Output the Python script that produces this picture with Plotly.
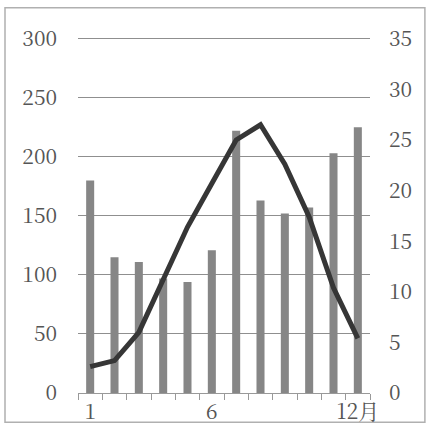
import plotly.graph_objects as go

months = list(range(1, 13))
precip = [180, 115, 111, 97, 94, 121, 222, 163, 152, 157, 203, 225]
temp = [2.6, 3.2, 6.0, 11.2, 16.4, 20.7, 25.0, 26.5, 22.6, 17.4, 10.4, 5.4]
x_tickvals = [1, 6, 12]
x_ticktext = ["1", "6", "12月"]
left_ticks = [0, 50, 100, 150, 200, 250, 300]
right_ticks = [0, 5, 10, 15, 20, 25, 30, 35]

FONT = "Noto Serif CJK JP"
TOP = 301.5

fig = go.Figure()
fig.add_trace(go.Bar(x=months, y=precip, marker=dict(color="#868686", line=dict(width=0)),
                     width=0.33, yaxis="y"))
fig.add_trace(go.Scatter(x=months, y=temp, mode="lines", yaxis="y2",
                         line=dict(color="#363636", width=5)))

fig.update_layout(
    width=426, height=426,
    margin=dict(l=78, r=56, t=37, b=33, autoexpand=False),
    paper_bgcolor="white", plot_bgcolor="white",
    showlegend=False,
    font=dict(family=FONT, size=21, color="#555555"),
    xaxis=dict(range=[0.5, 12.5], tickvals=x_tickvals, ticktext=x_ticktext,
               ticks="", showgrid=False, showline=True, linecolor="#999999", linewidth=1,
               zeroline=False, automargin=False, ticklabelstandoff=0,
               minor=dict(tickvals=[i + 0.5 for i in range(0, 13)], ticks="outside",
                          ticklen=6, tickcolor="#999999", showgrid=False)),
    yaxis=dict(range=[0, TOP], tickvals=left_ticks, showgrid=True, gridcolor="#8f8f8f",
               gridwidth=1.2, zeroline=False, showline=False, ticks="", ticklabelstandoff=20,
               automargin=False),
    yaxis2=dict(range=[0, 35 * TOP / 300], tickvals=right_ticks, overlaying="y", side="right",
                showgrid=False, zeroline=False, showline=False, ticks="", ticklabelstandoff=18,
                automargin=False),
    shapes=[dict(type="rect", xref="paper", yref="paper", x0=-0.25, x1=1.188,
                 y0=-0.082, y1=1.082, line=dict(color="#b0b0b0", width=1.5),
                 fillcolor="rgba(0,0,0,0)", layer="below")],
)

fig.write_html("out.html", config={"displayModeBar": False},
               post_script="document.body.style.margin='0';")
